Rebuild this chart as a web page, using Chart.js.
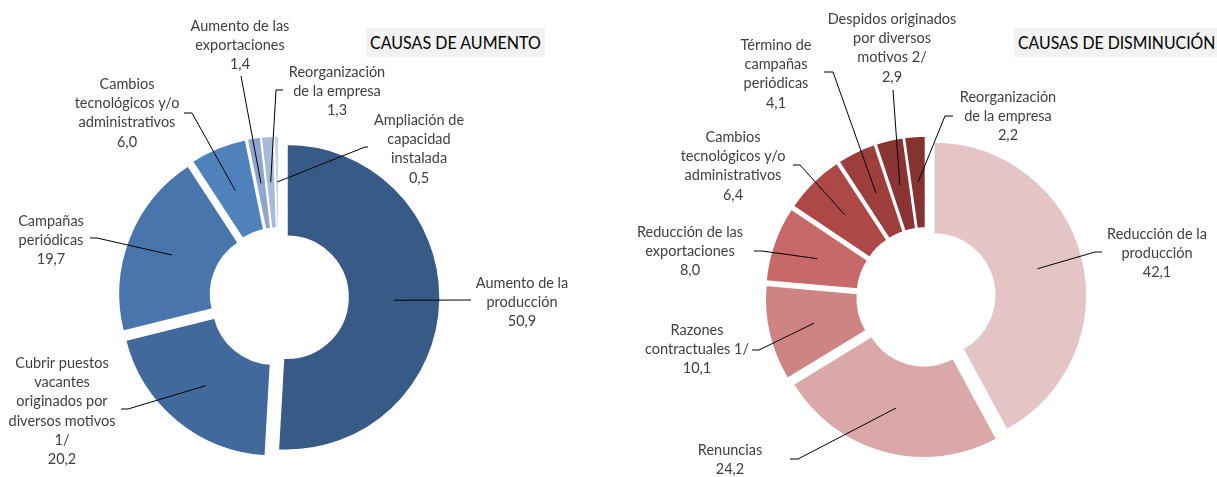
<!DOCTYPE html>
<html>
<head>
<meta charset="utf-8">
<script src="https://cdn.jsdelivr.net/npm/chart.js@4.4.1/dist/chart.umd.min.js"></script>
<style>
  body { margin: 0; background: #fff; }
  #lienzo { position: relative; width: 1217px; height: 477px; overflow: hidden; }
  #lienzo canvas { position: absolute; left: 0; top: 0; }
  .titulo { position: absolute; background: #f2f2f2; color: #000; font-family: Lato, sans-serif;
            font-size: 18px; height: 29px; line-height: 29px; white-space: nowrap; overflow: hidden; }
  .titulo span { display: inline-block; position: absolute; left: 4px; top: 0; transform-origin: 0 50%; }
</style>
</head>
<body>
<div id="lienzo">
  <canvas id="graficoAumento" width="1217" height="477"></canvas>
  <canvas id="graficoDisminucion" width="1217" height="477"></canvas>
  <div class="titulo" style="left:366px;top:28px;width:179px;"><span data-ancho="171">CAUSAS DE AUMENTO</span></div>
  <div class="titulo" style="left:1014px;top:28px;width:210px;"><span data-ancho="197">CAUSAS DE DISMINUCIÓN</span></div>
</div>
<script>
// causas de aumento
const causasAumento = [
  ['Aumento de la', 'producción'],
  ['Cubrir puestos', 'vacantes', 'originados por', 'diversos motivos', '1/'],
  ['Campañas', 'periódicas'],
  ['Cambios', 'tecnológicos y/o', 'administrativos'],
  ['Aumento de las', 'exportaciones'],
  ['Reorganización', 'de la empresa'],
  ['Ampliación de', 'capacidad', 'instalada']
];
const valoresAumento = [50.9, 20.2, 19.7, 6.0, 1.4, 1.3, 0.5];

// causas de disminucion
const causasDisminucion = [
  ['Reducción de la', 'producción'],
  ['Renuncias'],
  ['Razones', 'contractuales 1/'],
  ['Reducción de las', 'exportaciones'],
  ['Cambios', 'tecnológicos y/o', 'administrativos'],
  ['Término de', 'campañas', 'periódicas'],
  ['Despidos originados', 'por diversos', 'motivos 2/'],
  ['Reorganización', 'de la empresa']
];
const valoresDisminucion = [42.1, 24.2, 10.1, 8.0, 6.4, 4.1, 2.9, 2.2];

const coloresAumento = ['#375a87', '#41699b', '#4875ac', '#4f81bd', '#8ea6cf', '#a8b9dc', '#c8d2e8'];
const coloresDisminucion = ['#e4c4c5', '#daa8a8', '#ce8483', '#c66968', '#ae4846', '#9e3e3c', '#893433', '#853231'];

// donde va cada texto (centro de la primera linea) y el quiebre de su linea guia
const posicionesAumento = [
  { x: 522, y: 283, guia: [[471, 300]] },
  { x: 62,  y: 363, guia: [[128, 409], [121, 409]] },
  { x: 51,  y: 221, guia: [[97, 238], [90, 238]] },
  { x: 127, y: 84,  guia: [[192, 113], [184, 113]] },
  { x: 240, y: 26,  guia: [[241, 76]] },
  { x: 337, y: 72,  guia: [[276, 90], [283, 90]] },
  { x: 419, y: 120, guia: [[365, 147], [368, 147]] }
];
const posicionesDisminucion = [
  { x: 1157, y: 234, guia: [[1095, 252], [1102, 252]] },
  { x: 730,  y: 450, guia: [[798, 459], [790, 459]] },
  { x: 697,  y: 330, guia: [[759, 350], [752, 350]] },
  { x: 690,  y: 232, guia: [[762, 251], [754, 251]] },
  { x: 733,  y: 137, guia: [[800, 165], [793, 165]] },
  { x: 776,  y: 45,  guia: [[833, 72], [824, 72]] },
  { x: 892,  y: 19,  guia: [[893, 90]] },
  { x: 1008, y: 97,  guia: [[945, 116], [953, 116]] }
];

// ajusta el ancho de los titulos
document.querySelectorAll('.titulo span').forEach(s => {
  s.style.transform = 'scaleX(' + (+s.dataset.ancho / s.offsetWidth) + ')';
});

// separa cada porcion del centro (como el "explotado" de excel)
const explotar = {
  id: 'explotar',
  beforeDatasetDraw(chart, args, opts) {
    args.meta.data.forEach(arc => {
      const mid = (arc.startAngle + arc.endAngle) / 2;
      arc._x0 = arc.x; arc._y0 = arc.y;
      arc.x += Math.cos(mid) * opts.distancia;
      arc.y += Math.sin(mid) * opts.distancia;
    });
  },
  afterDatasetDraw(chart, args) {
    args.meta.data.forEach(arc => { arc.x = arc._x0; arc.y = arc._y0; });
  }
};

// etiquetas de texto con su valor y linea guia hasta la porcion
const etiquetas = {
  id: 'etiquetas',
  afterDraw(chart, args, opts) {
    const ctx = chart.ctx;
    const meta = chart.getDatasetMeta(0);
    const valores = chart.data.datasets[0].data;
    const d = chart.options.plugins.explotar.distancia;
    ctx.save();
    ctx.font = opts.fuente;
    ctx.fillStyle = '#404040';
    ctx.strokeStyle = '#000';
    ctx.lineWidth = 1;
    ctx.textAlign = 'center';
    ctx.textBaseline = 'middle';
    meta.data.forEach((arc, i) => {
      const p = opts.posiciones[i];
      const lineas = chart.data.labels[i].concat(valores[i].toFixed(1).replace('.', ','));
      lineas.forEach((t, k) => ctx.fillText(t, p.x, p.y + k * opts.interlinea));
      const mid = (arc.startAngle + arc.endAngle) / 2;
      const r = d + (arc.innerRadius + arc.outerRadius) / 2;
      ctx.beginPath();
      ctx.moveTo(arc.x + Math.cos(mid) * r, arc.y + Math.sin(mid) * r);
      p.guia.forEach(([x, y]) => ctx.lineTo(x, y));
      ctx.stroke();
    });
    ctx.restore();
  }
};

function dona(id, causas, valores, colores, posiciones, padding) {
  return new Chart(document.getElementById(id), {
    type: 'doughnut',
    data: {
      labels: causas,
      datasets: [{
        data: valores,
        backgroundColor: colores,
        borderColor: '#ffffff',
        borderWidth: 1.5
      }]
    },
    options: {
      responsive: false,
      animation: false,
      radius: 153,
      cutout: '39.9%',
      layout: { padding: padding },
      events: [],
      plugins: {
        legend: { display: false },
        tooltip: { enabled: false },
        explotar: { distancia: 8 },
        etiquetas: { posiciones: posiciones, fuente: '14.5px Lato', interlinea: 19.3 }
      }
    },
    plugins: [explotar, etiquetas]
  });
}

dona('graficoAumento', causasAumento, valoresAumento, coloresAumento, posicionesAumento,
     { left: 0, right: 659, top: 117, bottom: 0 });
dona('graficoDisminucion', causasDisminucion, valoresDisminucion, coloresDisminucion, posicionesDisminucion,
     { left: 635, right: 0, top: 117, bottom: 0 });
</script>
</body>
</html>
